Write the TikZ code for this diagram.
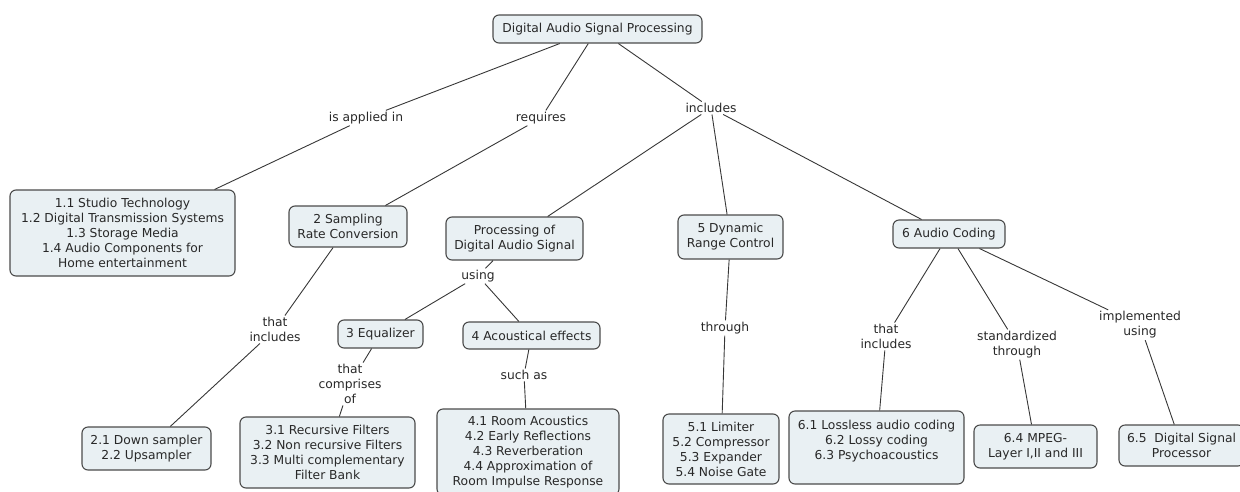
\documentclass[tikz,border=0pt]{standalone}
\usepackage{fontspec}
\setmainfont{DejaVu Sans}
\definecolor{boxfill}{RGB}{233,240,243}
\definecolor{boxline}{RGB}{75,75,75}
\definecolor{linkline}{RGB}{55,55,55}
\definecolor{txtcol}{RGB}{40,40,40}
\begin{document}
\begin{tikzpicture}[x=1pt,y=-1pt,
  every node/.style={font=\fontsize{12.3}{15}\selectfont, text=txtcol, align=center},
  concept/.style={draw=boxline, line width=1.1pt, fill=boxfill, rounded corners=6pt, inner sep=0pt},
  phrase/.style={inner sep=1.5pt},
  link/.style={draw=linkline, line width=0.9pt}]
\useasboundingbox (0,0) rectangle (1240,491);
\clip (0,0) rectangle (1240,491);

% concepts
\node[concept, minimum width=209pt, minimum height=28pt] (root) at (597.5,29) {Digital Audio Signal Processing};
\node[concept, minimum width=225pt, minimum height=86pt] (apps) at (122.5,233) {1.1 Studio Technology\\1.2 Digital Transmission Systems\\1.3 Storage Media\\1.4 Audio Components for\\Home entertainment};
\node[concept, minimum width=118pt, minimum height=41pt] (src) at (348,226.5) {2 Sampling\\Rate Conversion};
\node[concept, minimum width=137pt, minimum height=43pt] (proc) at (514.5,238.5) {Processing of\\Digital Audio Signal};
\node[concept, minimum width=105pt, minimum height=44pt] (dyn) at (730.5,237) {5 Dynamic\\Range Control};
\node[concept, minimum width=112pt, minimum height=28pt] (coding) at (949,234) {6 Audio Coding};
\node[concept, minimum width=85pt, minimum height=28pt] (eq) at (380.5,334) {3 Equalizer};
\node[concept, minimum width=137pt, minimum height=27pt] (acou) at (531.5,335.5) {4 Acoustical effects};
\node[concept, minimum width=129pt, minimum height=43pt] (down) at (146.5,448.5) {2.1 Down sampler\\2.2 Upsampler};
\node[concept, minimum width=175pt, minimum height=71pt] (filt) at (327.5,452.5) {3.1 Recursive Filters\\3.2 Non recursive Filters\\3.3 Multi complementary\\Filter Bank};
\node[concept, minimum width=182pt, minimum height=86pt] (room) at (528,452) {4.1 Room Acoustics\\4.2 Early Reflections\\4.3 Reverberation\\4.4 Approximation of\\Room Impulse Response};
\node[concept, minimum width=116pt, minimum height=70pt] (lim) at (721,449) {5.1 Limiter\\5.2 Compressor\\5.3 Expander\\5.4 Noise Gate};
\node[concept, minimum width=175pt, minimum height=73pt] (loss) at (876.5,447.5) {6.1 Lossless audio coding\\6.2 Lossy coding\\6.3 Psychoacoustics\\\mbox{}};
\node[concept, minimum width=123pt, minimum height=43pt] (mpeg) at (1035.5,446.5) {6.4 MPEG-\\Layer I,II and III};
\node[concept, minimum width=125pt, minimum height=41pt] (dsp) at (1181.5,445.5) {6.5~ Digital Signal\\Processor};

% linking phrases
\node[phrase] (lapp) at (366,118) {is applied in};
\node[phrase] (lreq) at (541,118) {requires};
\node[phrase] (linc) at (711,108) {includes};
\node[phrase] (lusing) at (478,276) {using};
\node[phrase] (lthatinc) at (275,329.5) {that\\includes};
\node[phrase] (lcomp) at (350,384) {that\\comprises\\of};
\node[phrase] (lsuch) at (524,375) {such as};
\node[phrase] (lthrough) at (725,328) {through};
\node[phrase] (lthatinc6) at (886,336.5) {that\\includes};
\node[phrase] (lstd) at (1017,344.5) {standardized\\through};
\node[phrase] (limpl) at (1140,325) {implemented\\using};

% connectors
\draw[link] (root) -- (lapp);
\draw[link] (lapp) -- (apps);
\draw[link] (root) -- (lreq);
\draw[link] (lreq) -- (src);
\draw[link] (root) -- (linc);
\draw[link] (linc) -- (proc);
\draw[link] (linc) -- (dyn);
\draw[link] (linc) -- (coding);
\draw[link] (src) -- (lthatinc);
\draw[link] (lthatinc) -- (down);
\draw[link] (proc) -- (lusing);
\draw[link] (lusing) -- (eq);
\draw[link] (lusing) -- (acou);
\draw[link] (eq) -- (lcomp);
\draw[link] (lcomp) -- (filt);
\draw[link] (acou) -- (lsuch);
\draw[link] (lsuch) -- (room);
\draw[link] (dyn) -- (lthrough);
\draw[link] (lthrough) -- (lim);
\draw[link] (coding) -- (lthatinc6);
\draw[link] (lthatinc6) -- (loss);
\draw[link] (coding) -- (lstd);
\draw[link] (lstd) -- (mpeg);
\draw[link] (coding) -- (limpl);
\draw[link] (limpl) -- (dsp);
\end{tikzpicture}
\end{document}
